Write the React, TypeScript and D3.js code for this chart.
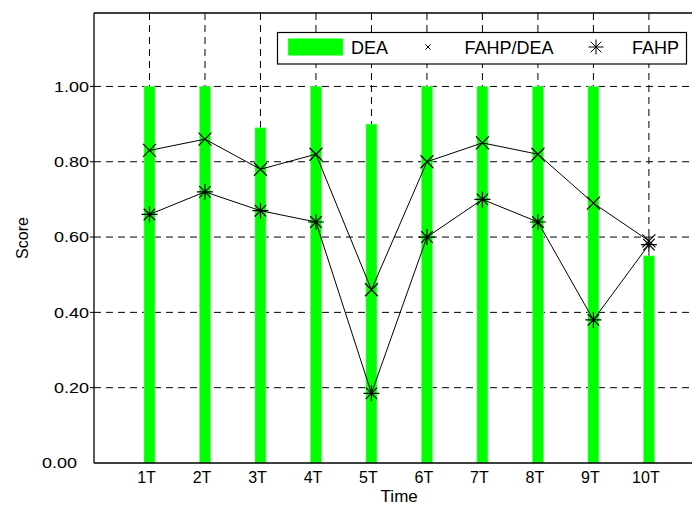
import React from "react";
import * as d3 from "d3";

const periods = ["1T", "2T", "3T", "4T", "5T", "6T", "7T", "8T", "9T", "10T"];
const dea = [1.0, 1.0, 0.89, 1.0, 0.9, 1.0, 1.0, 1.0, 1.0, 0.55];
const fahpDea = [0.83, 0.86, 0.78, 0.82, 0.46, 0.8, 0.85, 0.82, 0.69, 0.59];
const fahp = [0.66, 0.72, 0.67, 0.64, 0.185, 0.6, 0.7, 0.64, 0.38, 0.58];
const yTicks = [0, 0.2, 0.4, 0.6, 0.8, 1.0];

const W = 692;
const H = 506;
const font = "'Liberation Sans', Arial, sans-serif";

// x mark (FAHP/DEA)
const cross = (r: number) => `M${-r},${-r}L${r},${r}M${-r},${r}L${r},${-r}`;
// 8-spoke asterisk (FAHP)
const star = (r: number) => {
  const d = r * 0.72;
  return `M0,${-r}V${r}M${-r},0H${r}M${-d},${-d}L${d},${d}M${-d},${d}L${d},${-d}`;
};

export default function App() {
  const left = 94, top = 13, bottom = 463;
  const x = d3.scaleLinear().domain([0, 11]).range([left, 704.4]);
  const y = d3.scaleLinear().domain([0, 1.195]).range([bottom, top]);
  const barW = 11;

  const line = d3
    .line<number>()
    .x((_, i) => x(i + 1))
    .y((d) => y(d));

  const gridX = d3.range(1, 11);
  const gridY = yTicks.filter((t) => t > 0);

  return (
    <svg
      width={W}
      height={H}
      style={{ position: "absolute", left: 0, top: 0, background: "#fff" }}
    >
      <rect x={0} y={0} width={W} height={H} fill="#fff" />

      {/* grid */}
      <g stroke="#000" strokeWidth={1} strokeDasharray="7,5" fill="none">
        {gridX.map((g) => (
          <line key={"gx" + g} x1={x(g)} x2={x(g)} y1={top} y2={bottom} />
        ))}
        {gridY.map((g) => (
          <line key={"gy" + g} x1={left} x2={W} y1={y(g)} y2={y(g)} />
        ))}
      </g>

      {/* DEA bars */}
      <g fill="#00ff00" stroke="#7dff7d" strokeWidth={0.6}>
        {dea.map((v, i) => (
          <rect
            key={"b" + i}
            x={x(i + 1) - barW / 2}
            y={y(v)}
            width={barW}
            height={bottom - y(v)}
          />
        ))}
      </g>

      {/* lines */}
      <path d={line(fahpDea) || ""} fill="none" stroke="#000" strokeWidth={1} />
      <path d={line(fahp) || ""} fill="none" stroke="#000" strokeWidth={1} />

      <g stroke="#000" strokeWidth={1.2} fill="none">
        {fahpDea.map((v, i) => (
          <path key={"c" + i} d={cross(6.5)} transform={`translate(${x(i + 1)},${y(v)})`} />
        ))}
        {fahp.map((v, i) => (
          <path key={"s" + i} d={star(8)} transform={`translate(${x(i + 1)},${y(v)})`} />
        ))}
      </g>

      {/* frame */}
      <g stroke="#000" strokeWidth={1.3} fill="none">
        <line x1={left} x2={W} y1={top} y2={top} />
        <line x1={left} x2={left} y1={top} y2={bottom} />
        <line x1={left} x2={W} y1={bottom} y2={bottom} strokeWidth={1.6} />
      </g>

      {/* y axis */}
      <g fontFamily={font} fontSize={15} fill="#000">
        {yTicks.map((t) => {
          const isZero = t === 0;
          const tx = isZero ? 77 : 89;
          return (
            <g key={"yt" + t}>
              {!isZero && (
                <line x1={left - 4} x2={left} y1={y(t)} y2={y(t)} stroke="#000" />
              )}
              <text
                transform={`translate(${tx},${y(t)}) scale(1.2,1)`}
                textAnchor="end"
                dy="0.36em"
              >
                {d3.format(".2f")(t)}
              </text>
            </g>
          );
        })}
      </g>
      <text
        transform={`translate(28,${(top + bottom) / 2}) rotate(-90)`}
        textAnchor="middle"
        fontFamily={font}
        fontSize={16}
      >
        Score
      </text>

      {/* x axis */}
      <g fontFamily={font} fontSize={16} fill="#000">
        {periods.map((p, i) => (
          <text key={p} x={x(i + 1) - 3} y={483} textAnchor="middle">
            {p}
          </text>
        ))}
      </g>
      <text
        x={(x(0) + x(11)) / 2}
        y={502}
        textAnchor="middle"
        fontFamily={font}
        fontSize={17}
      >
        Time
      </text>

      {/* legend */}
      <g>
        <rect x={277.5} y={32.5} width={409} height={31.5} fill="#fff" stroke="#000" strokeWidth={1.2} />
        <rect x={288} y={38.5} width={55} height={17} fill="#00ff00" stroke="#7dff7d" strokeWidth={0.6} />
        <text x={351} y={53.5} fontFamily={font} fontSize={18}>DEA</text>
        <path d={cross(2.6)} transform="translate(428,47)" stroke="#000" strokeWidth={1} />
        <text x={464.5} y={53.5} fontFamily={font} fontSize={18}>FAHP/DEA</text>
        <path d={star(7.5)} transform="translate(596,47)" stroke="#000" strokeWidth={1} />
        <text x={632} y={53.5} fontFamily={font} fontSize={18}>FAHP</text>
      </g>
    </svg>
  );
}
